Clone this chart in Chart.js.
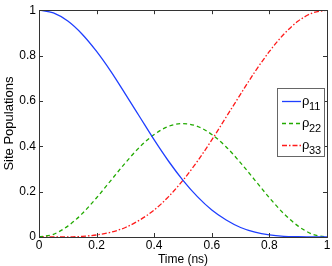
<!DOCTYPE html>
<html>
<head>
<meta charset="utf-8">
<script src="https://cdn.jsdelivr.net/npm/chart.js@4/dist/chart.umd.min.js"></script>
<style>
  html, body { margin: 0; padding: 0; background: #fff; }
  #wrap { width: 332px; height: 266px; }
</style>
</head>
<body>
<div id="wrap"><canvas id="c" width="332" height="266"></canvas></div>
<script>
// tiempos (ns) y poblaciones
const times = [0, 0.05, 0.1, 0.15, 0.2, 0.25, 0.3, 0.35, 0.4, 0.45, 0.5,
  0.55, 0.6, 0.65, 0.7, 0.75, 0.8, 0.85, 0.9, 0.95, 1];
const rho11 = [1, 0.988, 0.952, 0.894, 0.818, 0.729, 0.630, 0.529, 0.428, 0.334, 0.25,
  0.178, 0.119, 0.075, 0.042, 0.021, 0.009, 0.003, 0.001, 0, 0];
const rho22 = [0, 0.012, 0.048, 0.103, 0.173, 0.25, 0.327, 0.397, 0.452, 0.488, 0.5,
  0.488, 0.452, 0.397, 0.327, 0.25, 0.173, 0.103, 0.048, 0.012, 0];
const rho33 = [0, 0, 0, 0.003, 0.009, 0.021, 0.042, 0.075, 0.119, 0.178, 0.25,
  0.334, 0.428, 0.529, 0.630, 0.729, 0.818, 0.894, 0.952, 0.988, 1];
const xTicks = [0, 0.2, 0.4, 0.6, 0.8, 1];
const yTicks = [0, 0.2, 0.4, 0.6, 0.8, 1];
const seriesNames = ['11', '22', '33'];

const FONT = 'Liberation Sans, Arial, Helvetica, sans-serif';
const colors = ['#1f3fff', '#22aa00', '#ff1a1a'];
const dashes = [[], [4, 3], [5, 2, 1.5, 2]];

function pts(ys) {
  return times.map((t, i) => ({ x: t, y: ys[i] }));
}

function tickLabel(v) {
  return v === 0 || v === 1 ? String(v) : v.toFixed(1);
}

// caja, marcas hacia dentro y leyenda estilo MATLAB
const boxPlugin = {
  id: 'box',
  afterDraw(chart) {
    const ctx = chart.ctx;
    const a = chart.chartArea;
    const xs = chart.scales.x, ys = chart.scales.y;
    ctx.save();
    ctx.strokeStyle = '#333';
    ctx.lineWidth = 1;
    ctx.strokeRect(Math.round(a.left) + 0.5, Math.round(a.top) + 0.5,
      Math.round(a.right - a.left), Math.round(a.bottom - a.top));
    ctx.beginPath();
    xTicks.forEach(v => {
      const px = Math.round(xs.getPixelForValue(v)) + 0.5;
      ctx.moveTo(px, a.bottom); ctx.lineTo(px, a.bottom - 4);
      ctx.moveTo(px, a.top); ctx.lineTo(px, a.top + 4);
    });
    yTicks.forEach(v => {
      const py = Math.round(ys.getPixelForValue(v)) + 0.5;
      ctx.moveTo(a.left, py); ctx.lineTo(a.left + 4, py);
      ctx.moveTo(a.right, py); ctx.lineTo(a.right - 4, py);
    });
    ctx.stroke();

    // leyenda
    const lx = 277, ly = 88, lw = 47, lh = 68;
    ctx.fillStyle = '#fff';
    ctx.fillRect(lx, ly, lw, lh);
    ctx.strokeStyle = '#666';
    ctx.strokeRect(lx + 0.5, ly + 0.5, lw, lh);
    seriesNames.forEach((name, i) => {
      const y = ly + 13.5 + i * 22;
      ctx.strokeStyle = colors[i];
      ctx.lineWidth = 1.3;
      ctx.setLineDash(dashes[i]);
      ctx.beginPath();
      ctx.moveTo(lx + 5, y); ctx.lineTo(lx + 24, y);
      ctx.stroke();
      ctx.setLineDash([]);
      ctx.fillStyle = '#000';
      ctx.textBaseline = 'alphabetic';
      ctx.textAlign = 'left';
      ctx.font = '13px ' + FONT;
      ctx.fillText('\u03c1', lx + 25, y + 3);
      ctx.font = '11px ' + FONT;
      ctx.fillText(name, lx + 32, y + 8);
    });
    ctx.restore();
  }
};

new Chart(document.getElementById('c'), {
  type: 'line',
  data: {
    datasets: [rho11, rho22, rho33].map((d, i) => ({
      label: '\u03c1' + seriesNames[i],
      data: pts(d),
      borderColor: colors[i],
      borderWidth: 1.3,
      borderDash: dashes[i],
      pointRadius: 0,
      cubicInterpolationMode: 'monotone',
      fill: false
    }))
  },
  options: {
    responsive: false,
    animation: false,
    layout: { padding: { top: 9, right: 5, left: 0, bottom: 0 } },
    plugins: { legend: { display: false }, tooltip: { enabled: false } },
    scales: {
      x: {
        type: 'linear', min: 0, max: 1,
        afterBuildTicks: s => { s.ticks = xTicks.map(v => ({ value: v })); },
        afterFit: s => { s.height = 29; },
        grid: { display: false, drawTicks: false },
        border: { display: false },
        ticks: { color: '#000', font: { family: FONT, size: 12 }, padding: 1,
          maxRotation: 0, callback: tickLabel },
        title: { display: true, text: 'Time (ns)', color: '#000',
          font: { family: FONT, size: 12, lineHeight: 1.1 }, padding: { top: 0, bottom: 0 } }
      },
      y: {
        type: 'linear', min: 0, max: 1,
        afterBuildTicks: s => { s.ticks = yTicks.map(v => ({ value: v })); },
        afterFit: s => { s.width = 39; },
        grid: { display: false, drawTicks: false },
        border: { display: false },
        ticks: { color: '#000', font: { family: FONT, size: 12 }, padding: 3,
          callback: tickLabel },
        title: { display: true, text: 'Site Populations', color: '#000',
          font: { family: FONT, size: 13 }, padding: { top: 2, bottom: 0 } }
      }
    }
  },
  plugins: [boxPlugin]
});
</script>
</body>
</html>
